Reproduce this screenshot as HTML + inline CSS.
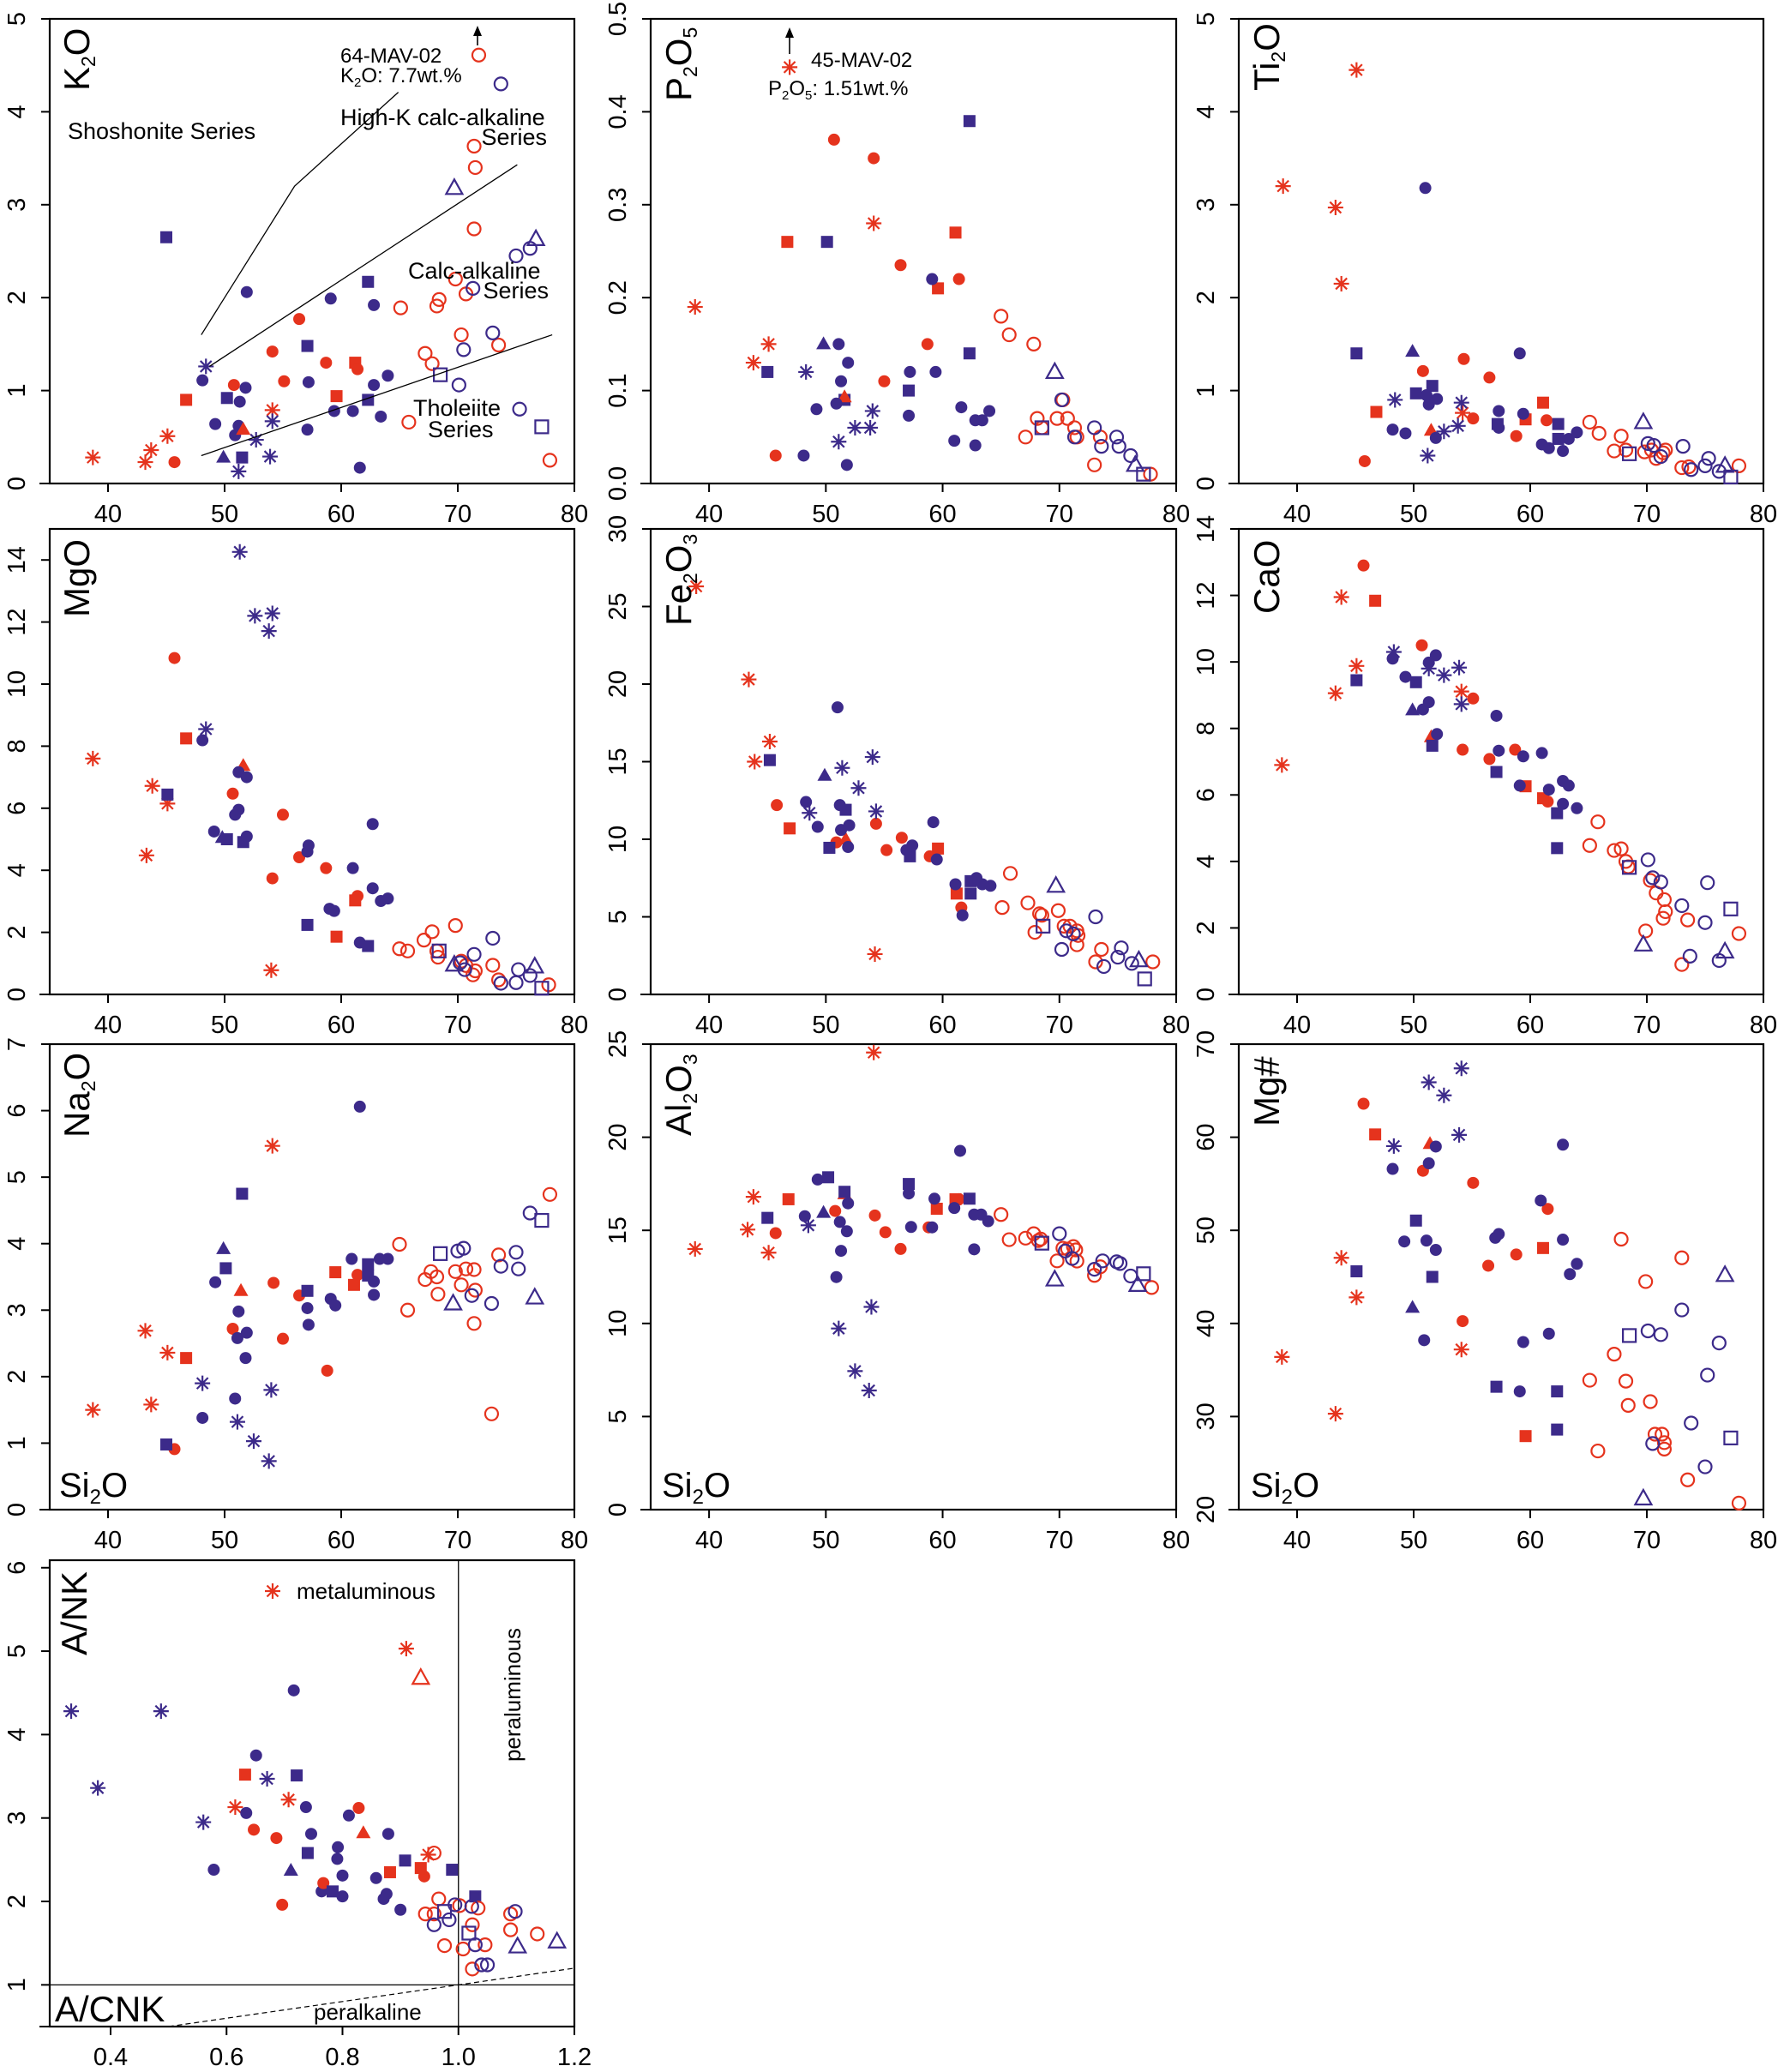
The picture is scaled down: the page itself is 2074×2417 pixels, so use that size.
<!DOCTYPE html>
<html><head><meta charset="utf-8">
<style>
html,body{margin:0;padding:0;background:#fff;}
svg{display:block;font-family:"Liberation Sans",Arial,sans-serif;}
</style></head>
<body>
<svg id="chart" xmlns="http://www.w3.org/2000/svg" width="2074" height="2417" viewBox="0 0 2074 2417"></svg>
<script>
// ---- data (type codes: r*/p* = red/purple; s star, c filled circle, q filled square, t filled triangle, o open circle, T open triangle, Q open square)
const siTicks = [40,50,60,70,80];
const siTickLabels = ["40","50","60","70","80"];
const k2oPts = [
["rs",38.7,.28],["rs",43.2,.23],["rs",43.7,.36],["rs",45.1,.51],["rs",54.1,.79],
["ps",48.4,1.26],["ps",51.2,.13],["ps",52.7,.47],["ps",53.9,.29],["ps",54.1,.67],
["pq",45.0,2.65],["pq",50.2,.92],["pq",51.5,.28],["pq",57.1,1.48],["pq",62.3,2.17],["pq",62.3,.9],
["rq",46.7,.9],["rq",59.6,.94],["rq",61.2,1.3],
["pc",48.1,1.11],["pc",49.2,.64],["pc",50.9,.52],["pc",51.2,.62],["pc",51.3,.88],["pc",51.8,1.03],["pc",51.9,2.06],["pc",57.1,.58],["pc",57.2,1.09],["pc",59.1,1.99],["pc",59.4,.78],["pc",61.0,.78],["pc",61.6,.17],["pc",62.8,1.06],["pc",62.8,1.92],["pc",63.4,.72],["pc",64.0,1.16],
["pt",49.9,.28],["rt",51.6,.58],
["rc",45.7,.23],["rc",50.8,1.06],["rc",54.1,1.42],["rc",55.1,1.1],["rc",56.4,1.77],["rc",58.7,1.3],["rc",61.4,1.23],
["ro",65.1,1.89],["ro",65.8,.66],["ro",67.2,1.4],["ro",67.8,1.29],["ro",68.2,1.91],["ro",68.4,1.98],["ro",69.8,2.2],["ro",70.3,1.6],["ro",70.7,2.04],["ro",71.4,2.74],["ro",71.5,3.4],["ro",71.4,3.63],["ro",71.8,4.61],["ro",73.5,1.49],["ro",77.9,.25],
["po",70.1,1.06],["po",70.5,1.44],["po",71.3,2.1],["po",73.0,1.62],["po",73.7,4.3],["po",75.0,2.45],["po",76.2,2.53],["po",75.3,.8],
["pQ",68.5,1.17],["pQ",77.2,.61],["pT",69.7,3.18],["pT",76.7,2.63]];
const p2o5Pts = [
["rs",38.8,.19],["rs",43.8,.13],["rs",45.1,.15],["rs",54.1,.28],["rs",46.9,.448],
["rc",45.7,.03],["rc",50.7,.37],["rc",54.1,.35],["rc",55.0,.11],["rc",56.4,.235],["rc",58.7,.15],["rc",61.4,.22],
["rq",46.7,.26],["rq",59.6,.21],["rq",61.1,.27],
["pq",45.0,.12],["pq",50.1,.26],["pq",51.6,.09],["pq",57.1,.1],["pq",62.3,.39],["pq",62.3,.14],["rt",51.6,.093],
["pt",49.8,.15],
["ps",48.3,.12],["ps",51.1,.045],["ps",52.5,.06],["ps",53.8,.06],["ps",54.0,.078],
["pc",48.1,.03],["pc",49.2,.08],["pc",50.9,.086],["pc",51.1,.15],["pc",51.3,.11],["pc",51.8,.02],["pc",51.9,.13],["pc",57.1,.073],["pc",57.2,.12],["pc",59.1,.22],["pc",59.4,.12],["pc",61.0,.046],["pc",61.6,.082],["pc",62.8,.041],["pc",62.8,.068],["pc",63.4,.068],["pc",64.0,.078],
["ro",65.0,.18],["ro",65.7,.16],["ro",67.1,.05],["ro",67.8,.15],["ro",68.1,.07],["ro",68.5,.06],["ro",69.8,.07],["ro",70.3,.09],["ro",70.7,.07],["ro",71.3,.06],["ro",71.5,.05],["ro",73.0,.02],["ro",73.5,.05],["ro",77.8,.01],
["po",70.2,.09],["po",71.3,.05],["po",73.0,.06],["po",73.6,.04],["po",74.9,.05],["po",75.1,.04],["po",76.1,.03],
["pQ",68.5,.06],["pQ",77.2,.01],["pT",69.6,.12],["pT",76.5,.02]];
const tio2Pts = [
["rs",38.8,3.2],["rs",43.3,2.97],["rs",43.8,2.15],["rs",45.1,4.45],["rs",54.2,.76],
["rc",45.8,.24],["rc",50.8,1.21],["rc",54.3,1.34],["rc",56.5,1.14],["rc",55.1,.7],["rc",58.8,.51],["rc",61.4,.68],
["rq",46.8,.77],["rq",59.6,.69],["rq",61.1,.87],["rt",51.5,.57],
["pq",45.1,1.4],["pq",50.2,.97],["pq",51.6,1.05],["pq",57.2,.64],["pq",62.4,.64],["pq",62.4,.48],["pt",49.9,1.42],
["ps",48.4,.9],["ps",51.2,.3],["ps",52.6,.56],["ps",53.8,.62],["ps",54.1,.87],
["pc",48.2,.58],["pc",49.3,.54],["pc",51.0,3.18],["pc",51.1,.95],["pc",51.3,.85],["pc",51.9,.49],["pc",52.0,.91],["pc",57.3,.78],["pc",57.3,.6],["pc",59.1,1.4],["pc",59.4,.75],["pc",61.0,.42],["pc",61.6,.38],["pc",62.8,.35],["pc",63.3,.48],["pc",64.0,.55],
["ro",65.1,.66],["ro",65.9,.54],["ro",67.2,.35],["ro",67.8,.51],["ro",68.2,.36],["ro",69.8,.34],["ro",70.4,.36],["ro",70.8,.27],["ro",71.4,.33],["ro",71.6,.36],["ro",73.0,.17],["ro",73.6,.18],["ro",77.9,.19],
["po",70.1,.43],["po",70.6,.41],["po",71.2,.29],["po",73.1,.4],["po",73.8,.15],["po",75.0,.19],["po",75.3,.27],["po",76.2,.13],
["pQ",68.5,.32],["pQ",77.2,.07],["pT",69.7,.66],["pT",76.7,.19]];
const mgoPts = [
["rs",38.7,7.6],["rs",43.3,4.48],["rs",43.8,6.72],["rs",45.1,6.15],["rs",54.0,.78],
["rc",45.7,10.84],["rc",50.7,6.47],["rc",54.1,3.74],["rc",55.0,5.79],["rc",56.4,4.42],["rc",58.7,4.07],["rc",61.4,3.17],
["rq",46.7,8.25],["rq",59.6,1.86],["rq",61.2,3.03],["rt",51.6,7.37],
["pq",45.1,6.44],["pq",50.2,5.0],["pq",51.6,4.91],["pq",57.1,2.24],["pq",62.3,1.56],["pt",49.8,5.05],
["ps",48.4,8.55],["ps",51.3,14.26],["ps",52.6,12.2],["ps",54.1,12.28],["ps",53.8,11.71],
["pc",48.1,8.19],["pc",49.1,5.25],["pc",50.9,5.79],["pc",51.2,5.95],["pc",51.2,7.16],["pc",51.9,7.0],["pc",51.9,5.09],["pc",57.1,4.6],["pc",57.2,4.8],["pc",59.0,2.76],["pc",59.4,2.69],["pc",61.0,4.07],["pc",61.6,1.67],["pc",62.7,5.49],["pc",62.7,3.42],["pc",63.4,3.01],["pc",64.0,3.09],
["ro",65.0,1.47],["ro",65.7,1.4],["ro",67.1,1.75],["ro",67.8,2.02],["ro",68.2,1.4],["ro",68.3,1.2],["ro",69.8,2.22],["ro",70.3,1.07],["ro",70.7,.93],["ro",71.3,.63],["ro",71.5,.76],["ro",73.0,.94],["ro",73.5,.47],["ro",77.8,.31],
["po",70.2,1.02],["po",70.6,.8],["po",71.4,1.29],["po",73.0,1.81],["po",73.7,.36],["po",75.0,.38],["po",75.2,.8],["po",76.2,.61],
["pQ",68.4,1.4],["pQ",77.2,.2],["pT",69.7,.96],["pT",76.6,.9]];
const fe2o3Pts = [
["rs",38.9,26.3],["rs",43.4,20.3],["rs",43.9,15.0],["rs",45.2,16.3],["rs",54.2,2.6],
["rc",45.8,12.2],["rc",50.9,9.8],["rc",54.3,11.0],["rc",55.2,9.3],["rc",56.5,10.1],["rc",58.9,8.9],["rc",61.6,5.6],
["rq",46.9,10.7],["rq",59.6,9.4],["rq",61.2,6.5],["rt",51.7,10.0],
["pq",45.2,15.1],["pq",50.3,9.45],["pq",51.7,11.9],["pq",57.2,8.9],["pq",62.4,7.3],["pq",62.4,6.5],["pt",49.9,14.1],
["ps",48.6,11.7],["ps",51.4,14.6],["ps",52.8,13.3],["ps",54.0,15.3],["ps",54.3,11.8],
["pc",48.3,12.4],["pc",49.3,10.8],["pc",51.0,18.5],["pc",51.2,12.2],["pc",51.3,10.6],["pc",51.9,9.5],["pc",52.0,10.9],["pc",56.9,9.3],["pc",57.4,9.6],["pc",59.2,11.1],["pc",59.5,8.7],["pc",61.1,7.1],["pc",61.7,5.1],["pc",62.9,7.5],["pc",63.4,7.1],["pc",64.1,7.0],
["ro",65.1,5.6],["ro",65.8,7.8],["ro",67.3,5.9],["ro",67.9,4.0],["ro",68.3,5.2],["ro",68.5,5.1],["ro",69.9,5.4],["ro",70.4,4.4],["ro",70.9,4.4],["ro",71.5,4.1],["ro",71.6,3.8],["ro",71.5,3.2],["ro",73.1,2.1],["ro",73.6,2.9],["ro",78.0,2.1],
["po",70.2,2.9],["po",70.6,4.1],["po",71.2,3.9],["po",73.1,5.0],["po",73.8,1.8],["po",75.0,2.4],["po",75.3,3.0],["po",76.2,2.0],
["pQ",68.6,4.4],["pQ",77.3,1.0],["pT",69.7,7.0],["pT",76.8,2.2]];
const caoPts = [
["rs",38.7,6.9],["rs",43.3,9.06],["rs",43.8,11.95],["rs",45.1,9.88],["rs",54.1,9.11],
["rc",45.7,12.9],["rc",50.7,10.5],["rc",54.2,7.36],["rc",55.1,8.9],["rc",56.5,7.08],["rc",58.7,7.36],["rc",61.5,5.8],
["rq",46.7,11.84],["rq",59.6,6.26],["rq",61.1,5.9],["rt",51.5,7.74],
["pq",45.1,9.45],["pq",50.2,9.39],["pq",51.6,7.48],["pq",57.1,6.69],["pq",62.3,5.45],["pq",62.3,4.4],["pt",49.9,8.55],
["ps",48.3,10.3],["ps",51.3,9.8],["ps",52.6,9.6],["ps",53.9,9.83],["ps",54.1,8.73],
["pc",48.2,10.1],["pc",49.3,9.55],["pc",50.8,8.57],["pc",51.3,8.79],["pc",51.3,9.98],["pc",51.9,10.2],["pc",52.0,7.83],["pc",57.1,8.38],["pc",57.3,7.33],["pc",59.1,6.28],["pc",59.4,7.16],["pc",61.0,7.26],["pc",61.6,6.16],["pc",62.8,6.42],["pc",62.8,5.73],["pc",63.3,6.28],["pc",64.0,5.6],
["ro",65.1,4.48],["ro",65.8,5.19],["ro",67.2,4.33],["ro",67.8,4.38],["ro",68.2,4.0],["ro",68.4,3.84],["ro",69.9,1.91],["ro",70.3,3.43],["ro",70.8,3.05],["ro",71.4,2.29],["ro",71.5,2.85],["ro",71.6,2.49],["ro",73.0,.9],["ro",73.5,2.24],["ro",77.9,1.83],
["po",70.1,4.05],["po",70.5,3.51],["po",71.2,3.38],["po",73.0,2.67],["po",73.7,1.15],["po",75.0,2.16],["po",75.2,3.36],["po",76.2,1.02],
["pQ",68.5,3.82],["pQ",77.2,2.57],["pT",69.7,1.5],["pT",76.7,1.29]];
const na2oPts = [
["rs",38.7,1.5],["rs",43.2,2.69],["rs",43.7,1.58],["rs",45.1,2.36],["rs",54.1,5.47],
["rc",45.7,.91],["rc",50.7,2.72],["rc",54.2,3.41],["rc",55.0,2.57],["rc",56.4,3.22],["rc",58.8,2.09],["rc",61.4,3.53],
["rq",46.7,2.28],["rq",59.5,3.57],["rq",61.1,3.38],["rt",51.4,3.29],
["pq",45.0,.98],["pq",50.1,3.63],["pq",51.5,4.75],["pq",57.1,3.29],["pq",62.3,3.69],["pq",62.3,3.52],["pt",49.9,3.92],
["ps",48.1,1.9],["ps",51.1,1.32],["ps",52.5,1.03],["ps",53.8,.73],["ps",54.0,1.8],
["pc",48.1,1.38],["pc",49.2,3.42],["pc",50.9,1.67],["pc",51.1,2.58],["pc",51.2,2.98],["pc",51.8,2.28],["pc",51.9,2.66],["pc",57.1,3.03],["pc",57.2,2.78],["pc",59.1,3.17],["pc",59.5,3.07],["pc",60.9,3.77],["pc",61.6,6.06],["pc",62.8,3.43],["pc",62.8,3.23],["pc",63.3,3.77],["pc",64.0,3.77],
["ro",65.0,3.99],["ro",65.7,3.0],["ro",67.2,3.46],["ro",67.7,3.58],["ro",68.2,3.5],["ro",68.3,3.24],["ro",69.8,3.58],["ro",70.3,3.38],["ro",70.7,3.62],["ro",71.4,3.61],["ro",71.5,3.3],["ro",71.4,2.8],["ro",72.9,1.44],["ro",73.5,3.83],["ro",77.9,4.74],
["po",70.0,3.89],["po",70.5,3.93],["po",71.2,3.22],["po",72.9,3.1],["po",73.7,3.66],["po",75.0,3.87],["po",75.2,3.62],["po",76.2,4.46],
["pQ",68.5,3.85],["pQ",77.2,4.35],["pT",69.6,3.1],["pT",76.6,3.19]];
const al2o3Pts = [
["rs",38.8,14.0],["rs",43.3,15.04],["rs",43.8,16.8],["rs",45.1,13.8],["rs",54.1,24.55],
["rc",45.7,14.85],["rc",50.8,16.04],["rc",54.2,15.8],["rc",55.1,14.9],["rc",56.4,14.0],["rc",58.8,15.16],["rc",61.4,16.67],
["rq",46.8,16.67],["rq",59.5,16.16],["rq",61.1,16.67],["rt",51.6,16.95],
["pq",45.0,15.67],["pq",50.2,17.85],["pq",51.6,17.07],["pq",57.1,17.49],["pq",62.3,16.7],["pt",49.8,15.95],
["ps",48.5,15.27],["ps",51.1,9.73],["ps",52.5,7.44],["ps",53.7,6.4],["ps",53.9,10.89],
["pc",48.2,15.76],["pc",49.3,17.73],["pc",50.9,12.49],["pc",51.2,15.45],["pc",51.3,13.9],["pc",51.8,14.95],["pc",51.9,16.45],["pc",57.1,16.98],["pc",57.3,15.18],["pc",59.1,15.16],["pc",59.3,16.7],["pc",61.0,16.2],["pc",61.5,19.27],["pc",62.7,15.85],["pc",62.7,13.98],["pc",63.3,15.85],["pc",63.9,15.49],
["ro",65.0,15.85],["ro",65.7,14.5],["ro",67.1,14.58],["ro",67.8,14.82],["ro",68.2,14.45],["ro",68.4,14.53],["ro",69.8,13.36],["ro",70.3,14.04],["ro",70.7,14.0],["ro",71.2,14.13],["ro",71.4,13.95],["ro",71.5,13.35],["ro",73.0,12.58],["ro",73.5,13.04],["ro",77.9,11.93],
["po",70.0,14.82],["po",70.5,13.89],["po",71.1,13.49],["po",73.0,12.91],["po",73.7,13.36],["po",74.9,13.31],["po",75.2,13.22],["po",76.1,12.55],
["pQ",68.5,14.31],["pQ",77.2,12.67],["pT",69.6,12.36],["pT",76.7,12.07]];
const mgnPts = [
["rs",38.7,36.4],["rs",43.3,30.3],["rs",43.8,47.05],["rs",45.1,42.8],["rs",54.1,37.2],
["rc",45.7,63.6],["rc",50.8,56.4],["rc",54.2,40.25],["rc",55.1,55.1],["rc",56.4,46.2],["rc",58.8,47.4],["rc",61.5,52.3],
["rq",46.7,60.3],["rq",59.6,27.9],["rq",61.1,48.1],["rt",51.4,59.3],
["pq",45.1,45.6],["pq",50.2,51.05],["pq",51.6,45.0],["pq",57.1,33.2],["pq",62.3,32.7],["pq",62.3,28.6],["pt",49.9,41.7],
["ps",48.3,59.05],["ps",51.3,65.9],["ps",52.6,64.5],["ps",53.9,60.25],["ps",54.1,67.4],
["pc",48.2,56.6],["pc",49.2,48.8],["pc",50.9,38.2],["pc",51.1,48.9],["pc",51.3,57.2],["pc",51.9,47.9],["pc",51.9,59.0],["pc",57.0,49.2],["pc",57.3,49.6],["pc",59.1,32.7],["pc",59.4,38.0],["pc",60.9,53.2],["pc",61.6,38.9],["pc",62.8,59.2],["pc",62.8,49.0],["pc",63.4,45.3],["pc",64.0,46.4],
["ro",65.1,33.9],["ro",65.8,26.3],["ro",67.2,36.7],["ro",67.8,49.05],["ro",68.2,33.8],["ro",68.4,31.2],["ro",69.9,44.5],["ro",70.3,31.6],["ro",70.7,28.1],["ro",71.3,28.1],["ro",71.5,27.2],["ro",71.5,26.5],["ro",73.0,47.05],["ro",73.5,23.2],["ro",77.9,20.7],
["po",70.1,39.2],["po",70.5,27.1],["po",71.2,38.8],["po",73.0,41.45],["po",73.8,29.3],["po",75.0,24.6],["po",75.2,34.45],["po",76.2,37.9],
["pQ",68.5,38.7],["pQ",77.2,27.7],["pT",69.7,21.2],["pT",76.7,45.2]];
const ankPts = [
["ps",.332,4.28],["ps",.487,4.28],["ps",.378,3.36],["ps",.56,2.95],["ps",.67,3.47],
["rs",.91,5.03],["rs",.615,3.13],["rs",.707,3.22],["rs",.948,2.56],["rT",.935,4.68],
["pc",.716,4.53],["pc",.651,3.75],["pc",.634,3.06],["pc",.578,2.38],["pc",.737,3.13],["pc",.811,3.03],["pc",.746,2.81],["pc",.792,2.65],["pc",.791,2.51],["pc",.80,2.31],["pc",.764,2.12],["pc",.80,2.06],["pc",.858,2.28],["pc",.879,2.81],["pc",.876,2.09],["pc",.871,2.03],["pc",.90,1.9],
["rc",.647,2.86],["rc",.686,2.76],["rc",.828,3.12],["rc",.696,1.96],["rc",.767,2.22],["rc",.941,2.3],
["rq",.632,3.52],["rq",.882,2.35],["rq",.935,2.4],["rt",.836,2.82],
["pq",.721,3.51],["pq",.74,2.58],["pq",.783,2.12],["pq",.908,2.49],["pq",.989,2.38],["pq",1.029,2.06],["pt",.711,2.37],
["ro",.958,2.58],["ro",.966,2.03],["ro",.943,1.85],["ro",.958,1.85],["ro",1.002,1.95],["ro",1.034,1.92],["ro",1.024,1.72],["ro",.976,1.47],["ro",1.008,1.43],["ro",1.046,1.48],["ro",1.024,1.19],["ro",1.09,1.85],["ro",1.09,1.66],["ro",1.136,1.61],
["po",.958,1.72],["po",.984,1.78],["po",.994,1.96],["po",1.023,1.94],["po",1.029,1.48],["po",1.04,1.24],["po",1.05,1.24],["po",1.098,1.88],
["pQ",.976,1.88],["pQ",1.018,1.62],["pT",1.102,1.46],["pT",1.17,1.52]];
const k2oSeriesLine1 = [[48,1.6],[56,3.2],[64.9,4.21]];
const k2oSeriesLine2 = [[48.7,1.26],[75.1,3.43]];
const k2oSeriesLine3 = [[48,0.3],[78.1,1.6]];
const ankTicksX = [0.4,0.6,0.8,1.0,1.2];
const ankTickLabelsX = ["0.4","0.6","0.8","1.0","1.2"];
const ankTicksY = [1,2,3,4,5,6];

// ---- drawing
const NS = "http://www.w3.org/2000/svg";
const svg = document.getElementById("chart");
const RED = "#e5331d", PUR = "#3c2a8a";
function el(tag, attrs, parent){
  const e = document.createElementNS(NS, tag);
  for (const k in attrs) e.setAttribute(k, attrs[k]);
  (parent || svg).appendChild(e);
  return e;
}
const C1=[58,670], C2=[759,1372], C3=[1445,2057];
const R1=[22,564], R2=[617,1160], R3=[1218,1761], R4=[1820,2364];

function panel(name, xr, yr, xmin, xmax, ymin, ymax, xt, xtl, yt, ytl, pts){
  const g = el("g", {});
  
  
  const sx = v => xr[0] + (v - xmin) / (xmax - xmin) * (xr[1] - xr[0]);
  const sy = v => yr[1] - (v - ymin) / (ymax - ymin) * (yr[1] - yr[0]);
  const box = el("rect", {x:xr[0], y:yr[0], width:xr[1]-xr[0], height:yr[1]-yr[0], fill:"none", stroke:"#000", "stroke-width":2.2}, g);
  
  
  xt.forEach((v,i)=>{
    const x = sx(v);
    el("line",{x1:x,y1:yr[1],x2:x,y2:yr[1]+10,stroke:"#000","stroke-width":2},g);
    const t = el("text",{x:x,y:yr[1]+45,"font-size":29,"text-anchor":"middle"},g);
    t.textContent = xtl[i];
    
    
  });
  el("line",{x1:xr[0]-12,y1:yr[1],x2:xr[0],y2:yr[1],stroke:"#000","stroke-width":2},g);
  yt.forEach((v,i)=>{
    const y = sy(v);
    el("line",{x1:xr[0]-10,y1:y,x2:xr[0],y2:y,stroke:"#000","stroke-width":2},g);
    const lx = xr[0]-29;
    const t = el("text",{x:lx,y:y,"font-size":29,"text-anchor":"middle",transform:`rotate(-90 ${lx} ${y})`},g);
    t.textContent = ytl[i];
    
    
  });
  pts.forEach(p=>{
    const m = marker(p[0], sx(p[1]), sy(p[2]), g);
    
    
  });
  return {g, sx, sy};
}
function marker(t, x, y, g){
  const col = t[0]==="r" ? RED : PUR;
  const k = t[1];
  const m = el("g",{},g);
  if (k==="c") el("circle",{cx:x,cy:y,r:7,fill:col},m);
  else if (k==="o") el("circle",{cx:x,cy:y,r:7.5,fill:"none",stroke:col,"stroke-width":2.2},m);
  else if (k==="q") el("rect",{x:x-7,y:y-7,width:14,height:14,fill:col},m);
  else if (k==="Q") el("rect",{x:x-7.5,y:y-7.5,width:15,height:15,fill:"none",stroke:col,"stroke-width":2.2},m);
  else if (k==="t") el("polygon",{points:`${x},${y-9} ${x-8.5},${y+6} ${x+8.5},${y+6}`,fill:col},m);
  else if (k==="T") el("polygon",{points:`${x},${y-10} ${x-9.5},${y+7} ${x+9.5},${y+7}`,fill:"none",stroke:col,"stroke-width":2.2},m);
  else if (k==="s"){
    const a=9, b=6.5;
    el("path",{d:`M${x-a},${y}H${x+a}M${x},${y-a}V${y+a}M${x-b},${y-b}L${x+b},${y+b}M${x-b},${y+b}L${x+b},${y-b}`,stroke:col,"stroke-width":2.2,fill:"none"},m);
  }
  return m;
}
function vtitle(x, y, parts, name){
  const t = el("text",{x:x,y:y,"font-size":42,transform:`rotate(-90 ${x} ${y})`});
  
  
  parts.forEach(p=>{
    const s = el("tspan",{},t);
    if (p[1]) { s.setAttribute("font-size",23); s.setAttribute("dy",7); }
    else if (p[2]) { s.setAttribute("dy",-7); }
    s.textContent = p[0];
  });
  return t;
}
function txt(x,y,s,size,name,anchor){
  const t = el("text",{x:x,y:y,"font-size":size,"text-anchor":anchor||"start"});
  t.textContent = s;
  
  
  return t;
}
const yt5=[0,1,2,3,4,5];
// Row 1
const P1 = panel("k2o", C1, R1, 35,80, 0,5, siTicks, siTickLabels, yt5, yt5.map(String), k2oPts);
const P2 = panel("p2o5", C2, R1, 35,80, 0,0.5, siTicks, siTickLabels, [0,.1,.2,.3,.4,.5], ["0.0","0.1","0.2","0.3","0.4","0.5"], p2o5Pts);
const P3 = panel("tio2", C3, R1, 35,80, 0,5, siTicks, siTickLabels, yt5, yt5.map(String), tio2Pts);
// Row 2
const P4 = panel("mgo", C1, R2, 35,80, 0,15, siTicks, siTickLabels, [0,2,4,6,8,10,12,14], ["0","2","4","6","8","10","12","14"], mgoPts);
const P5 = panel("fe2o3", C2, R2, 35,80, 0,30, siTicks, siTickLabels, [0,5,10,15,20,25,30], ["0","5","10","15","20","25","30"], fe2o3Pts);
const P6 = panel("cao", C3, R2, 35,80, 0,14, siTicks, siTickLabels, [0,2,4,6,8,10,12,14], ["0","2","4","6","8","10","12","14"], caoPts);
// Row 3
const P7 = panel("na2o", C1, R3, 35,80, 0,7, siTicks, siTickLabels, [0,1,2,3,4,5,6,7], ["0","1","2","3","4","5","6","7"], na2oPts);
const P8 = panel("al2o3", C2, R3, 35,80, 0,25, siTicks, siTickLabels, [0,5,10,15,20,25], ["0","5","10","15","20","25"], al2o3Pts);
const P9 = panel("mg-number", C3, R3, 35,80, 20,70, siTicks, siTickLabels, [20,30,40,50,60,70], ["20","30","40","50","60","70"], mgnPts);
// Row 4
const P10 = panel("ank-acnk", C1, R4, 0.295,1.2, 0.5,6.09, ankTicksX, ankTickLabelsX, ankTicksY, ankTicksY.map(String), []);

// K2O series boundary lines
[k2oSeriesLine1,k2oSeriesLine2,k2oSeriesLine3].forEach((ln,i)=>{
  const l = el("polyline",{points:ln.map(p=>P1.sx(p[0])+","+P1.sy(p[1])).join(" "),fill:"none",stroke:"#000","stroke-width":1.3},P1.g);
  
  
});
// A/NK reference lines
{
  const g=P10.g, sx=P10.sx, sy=P10.sy;
  const h = el("line",{x1:C1[0],y1:sy(1),x2:C1[1],y2:sy(1),stroke:"#000","stroke-width":1.3},g);
   
  const v = el("line",{x1:sx(1),y1:R4[0],x2:sx(1),y2:R4[1],stroke:"#000","stroke-width":1.3},g);
   
  const d = el("line",{x1:sx(0.5),y1:sy(0.5),x2:sx(1.2),y2:sy(1.2),stroke:"#000","stroke-width":1.2,"stroke-dasharray":"6,4"},g);
   
  ankPts.forEach(p=>{
    const m = marker(p[0], sx(p[1]), sy(p[2]), g);
    
    
  });
}

// Titles
vtitle(104,106,[["K"],["2",1],["O",0,1]],"k2o-axis-title");
vtitle(806,118,[["P"],["2",1],["O",0,1],["5",1]],"p2o5-axis-title");
vtitle(1492,106,[["Ti"],["2",1],["O",0,1]],"tio2-axis-title");
vtitle(104,720,[["MgO"]],"mgo-axis-title");
vtitle(806,730,[["Fe"],["2",1],["O",0,1],["3",1]],"fe2o3-axis-title");
vtitle(1492,716,[["CaO"]],"cao-axis-title");
vtitle(104,1327,[["Na"],["2",1],["O",0,1]],"na2o-axis-title");
vtitle(806,1325,[["Al"],["2",1],["O",0,1],["3",1]],"al2o3-axis-title");
vtitle(1492,1314,[["Mg#"]],"mg-number-axis-title");
vtitle(101,1931,[["A/NK"]],"ank-axis-title");

function si2o(x,y){
  const t = el("text",{x:x,y:y,"font-size":40});
  
  
  const a=el("tspan",{},t); a.textContent="Si";
  const b=el("tspan",{"font-size":24,dy:8},t); b.textContent="2";
  const c=el("tspan",{dy:-8},t); c.textContent="O";
}
si2o(69,1746); si2o(772,1746); si2o(1459,1746);
txt(64,2358,"A/CNK",42,"acnk-axis-title");

// K2O annotations
txt(397,73,"64-MAV-02",24,"sample-64-mav-02-label");
{ const t=el("text",{x:397,y:96,"font-size":24});
   
  const a=el("tspan",{},t); a.textContent="K";
  const b=el("tspan",{"font-size":15,dy:5},t); b.textContent="2";
  const c=el("tspan",{dy:-5},t); c.textContent="O: 7.7wt.%"; }
txt(79,162,"Shoshonite Series",27,"shoshonite-series-label");
txt(397,146,"High-K calc-alkaline",27,"high-k-calc-alkaline-label");
txt(638,169,"Series",27,"high-k-series-label","end");
txt(476,325,"Calc-alkaline",27,"calc-alkaline-label");
txt(640,348,"Series",27,"calc-alkaline-series-label","end");
txt(482,485,"Tholeiite",27,"tholeiite-label");
txt(499,510,"Series",27,"tholeiite-series-label");
function arrow(x,y1,y2,name){
  const g=el("g",{});
   
  el("line",{x1:x,y1:y1,x2:x,y2:y2+8,stroke:"#000","stroke-width":1.6},g);
  el("polygon",{points:`${x},${y2} ${x-5},${y2+12} ${x+5},${y2+12}`,fill:"#000"},g);
}
arrow(557,53,30,"k2o-offscale-arrow");
arrow(921,63,32,"p2o5-offscale-arrow");
txt(946,78,"45-MAV-02",24,"sample-45-mav-02-label");
{ const t=el("text",{x:896,y:111,"font-size":24});
   
  const a=el("tspan",{},t); a.textContent="P";
  const b=el("tspan",{"font-size":15,dy:5},t); b.textContent="2";
  const c=el("tspan",{dy:-5},t); c.textContent="O";
  const d=el("tspan",{"font-size":15,dy:5},t); d.textContent="5";
  const e=el("tspan",{dy:-5},t); e.textContent=": 1.51wt.%"; }

// A/NK annotations
{ const m = marker("rs",318,1856,svg);   }
txt(346,1865,"metaluminous",26,"metaluminous-label");
txt(366,2356,"peralkaline",26,"peralkaline-label");
{ const t=el("text",{x:607,y:1977,"font-size":26,"text-anchor":"middle",transform:"rotate(-90 607 1977)"});
  t.textContent="peraluminous";
    }
</script>
</body></html>
